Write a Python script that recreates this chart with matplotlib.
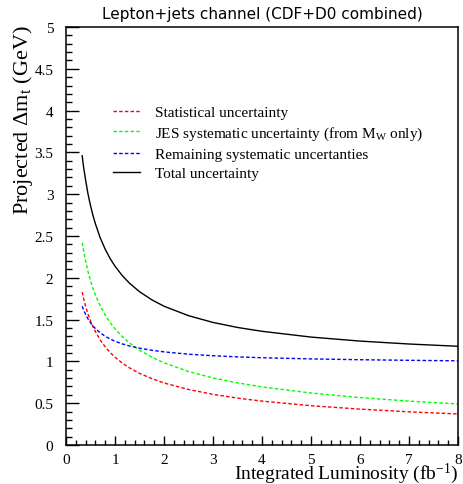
import matplotlib
matplotlib.use("Agg")
import matplotlib.pyplot as plt
from matplotlib.ticker import MultipleLocator, FuncFormatter

plt.rcParams['font.family'] = ['Liberation Serif', 'DejaVu Serif']
plt.rcParams['mathtext.fontset'] = 'custom'
plt.rcParams['mathtext.rm'] = 'Liberation Serif'
plt.rcParams['mathtext.it'] = 'Liberation Serif:italic'

# Data
lumi = [0.33, 0.36, 0.4, 0.45, 0.5, 0.55, 0.6, 0.7, 0.8, 0.9, 1.0, 1.15, 1.3, 1.5,
        1.75, 2.0, 2.5, 3.0, 3.5, 4.0, 5.0, 6.0, 7.0, 8.0]
stat = [1.83, 1.75, 1.66, 1.565, 1.485, 1.416, 1.356, 1.255, 1.174, 1.107, 1.05, 0.979,
        0.921, 0.857, 0.794, 0.742, 0.664, 0.606, 0.561, 0.525, 0.470, 0.429, 0.397, 0.371]
jes = [2.42, 2.32, 2.20, 2.072, 1.966, 1.874, 1.795, 1.661, 1.554, 1.465, 1.39, 1.296,
       1.219, 1.135, 1.051, 0.983, 0.879, 0.802, 0.743, 0.695, 0.622, 0.567, 0.525, 0.491]
remaining = [1.66, 1.615, 1.562, 1.508, 1.463, 1.425, 1.393, 1.341, 1.300, 1.268, 1.241,
             1.209, 1.184, 1.158, 1.133, 1.114, 1.086, 1.068, 1.054, 1.044, 1.030, 1.020,
             1.013, 1.007]
total = [3.46, 3.32, 3.17, 3.00, 2.865, 2.747, 2.646, 2.476, 2.342, 2.231, 2.139, 2.025,
         1.933, 1.834, 1.737, 1.660, 1.547, 1.466, 1.406, 1.360, 1.291, 1.243, 1.208, 1.181]

labels = ["Statistical uncertainty",
          "JES systematic uncertainty (from M$_{\\mathrm{W}}$ only)",
          "Remaining systematic uncertanties",
          "Total uncertainty"]

W, H = 463, 485
fig = plt.figure(figsize=(W / 100, H / 100), dpi=100)
ax = fig.add_axes([66 / W, 1 - 446 / H, (458 - 66) / W, (446 - 28) / H])

dash = (0, (2.5, 1.6))
ax.plot(lumi, stat, color='#ff0000', lw=1.0, linestyle=dash, label=labels[0])
ax.plot(lumi, jes, color='#00ff00', lw=1.0, linestyle=dash, label=labels[1])
ax.plot(lumi, remaining, color='#0000ff', lw=1.0, linestyle=dash, label=labels[2])
ax.plot(lumi, total, color='black', lw=1.0, label=labels[3])

ax.set_xlim(0, 8)
ax.set_ylim(0, 5)
ax.xaxis.set_major_locator(MultipleLocator(1))
ax.xaxis.set_minor_locator(MultipleLocator(0.2))
ax.yaxis.set_major_locator(MultipleLocator(0.5))
ax.yaxis.set_minor_locator(MultipleLocator(0.1))
fmt = FuncFormatter(lambda v, p: ('%g' % v))
ax.xaxis.set_major_formatter(fmt)
ax.yaxis.set_major_formatter(fmt)
ax.tick_params(axis='both', which='both', direction='in', top=False, right=False,
               labelsize=11, width=1.0)
ax.tick_params(axis='y', which='major', length=9.5, pad=9)
ax.tick_params(axis='y', which='minor', length=4)
ax.tick_params(axis='x', which='major', length=6.5, pad=5.5)
ax.tick_params(axis='x', which='minor', length=3.5)
for s in ax.spines.values():
    s.set_linewidth(1.1)

leg = ax.legend(loc='upper left', bbox_to_anchor=(0.12, 0.813), frameon=False,
                fontsize=11, handlelength=1.76, handletextpad=1.0,
                labelspacing=0.36, borderpad=0, borderaxespad=0)

fig.text(262 / W, 1 - 15 / H, "Lepton+jets channel (CDF+D0 combined)",
         family='DejaVu Sans', fontsize=11, ha='center', va='center')
fig.text(458 / W, 6 / H, "Integrated Luminosity (fb$^{\\mathrm{-1}}$)",
         fontsize=14, ha='right', va='baseline')
fig.text(23 / W, 1 - 25 / H, "Projected \u0394m$_{\\mathrm{t}}$ (GeV)",
         fontsize=16, ha='center', va='top', rotation=90)

fig.savefig("out.png", dpi=100)
